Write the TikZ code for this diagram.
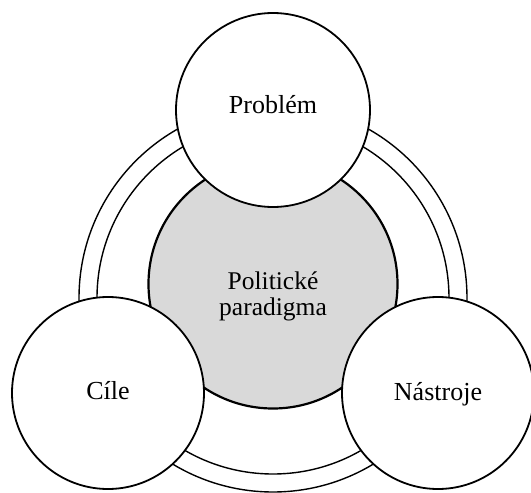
\documentclass[tikz,border=0pt]{standalone}
\usepackage{fontspec}
\setmainfont{Liberation Serif}
\definecolor{paragray}{RGB}{217,217,217}
\begin{document}
\begin{tikzpicture}[x=1pt,y=-1pt,
  ring/.style={draw=black,line width=1.4pt},
  bigc/.style={circle,draw=black,line width=1.8pt,fill=white,minimum size=#1,inner sep=0pt},
  core/.style={circle,draw=black,line width=2.2pt,fill=paragray,minimum size=249pt,inner sep=0pt},
  lbl/.style={font=\fontsize{26}{30}\selectfont,anchor=base,inner sep=0pt},
  clbl/.style={font=\fontsize{25.5}{27}\selectfont,anchor=base,inner sep=0pt}]
\useasboundingbox (0,0) rectangle (531,493);
\coordinate (rc) at (273,298);
\draw[ring] (rc) circle[radius=194];
\draw[ring] (rc) circle[radius=176];
\node[core] (para) at (273,284) {};
\node[bigc=194pt] (prob) at (273,110) {};
\node[bigc=192pt] (cile) at (108,393) {};
\node[bigc=192pt] (nast) at (438,393) {};
\node[lbl] (tprob) at (273,113) {Problém};
\node[lbl] (tcile) at (108,399) {Cíle};
\node[lbl] (tnast) at (438,400) {Nástroje};
\node[clbl] (tpol) at (273,289) {Politické};
\node[clbl] (tpar) at (273,315) {paradigma};
\end{tikzpicture}
\end{document}
